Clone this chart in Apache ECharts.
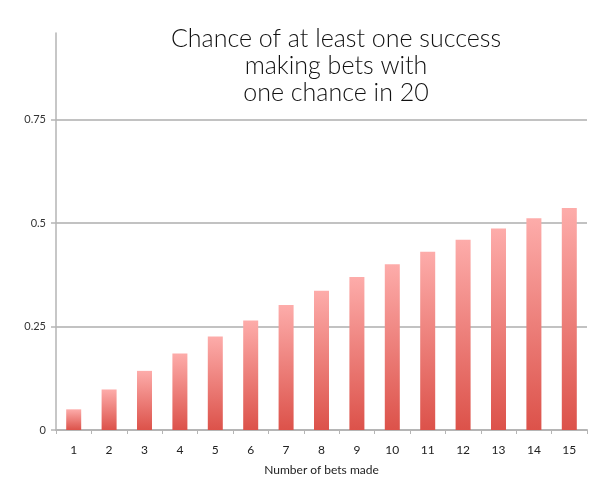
<!DOCTYPE html>
<html>
<head>
<meta charset="utf-8">
<script src="https://cdn.jsdelivr.net/npm/echarts@6/dist/echarts.min.js"></script>
<style>
  html, body { margin: 0; padding: 0; background: #fff; }
  #chart { width: 600px; height: 495px; }
</style>
</head>
<body>
<div id="chart"></div>
<script>
const categories = ['1', '2', '3', '4', '5', '6', '7', '8', '9', '10', '11', '12', '13', '14', '15']
const chance = [0.05, 0.098, 0.143, 0.185, 0.226, 0.265, 0.302, 0.337, 0.37, 0.401, 0.431, 0.46, 0.487, 0.512, 0.537]
const yTicks = [0, 0.25, 0.5, 0.75]

const chart = echarts.init(document.getElementById('chart'))

chart.setOption({
  animation: false,
  title: {
    text: 'Chance of at least one success\nmaking bets with\none chance in 20',
    left: 331,
    top: 20,
    textAlign: 'center',
    textStyle: { fontFamily: 'Lato', fontWeight: 300, fontSize: 25, lineHeight: 27, color: '#111' }
  },
  grid: { left: 56, right: 13, top: 33, bottom: 65 },
  xAxis: {
    type: 'category',
    data: categories,
    name: 'Number of bets made',
    nameLocation: 'middle',
    nameGap: 34,
    nameTextStyle: { fontFamily: 'Lato', fontSize: 12, color: '#222' },
    axisLine: { lineStyle: { color: '#b5b5b5', width: 2 } },
    axisTick: { show: true, length: 4, lineStyle: { color: '#b5b5b5', width: 1 } },
    axisLabel: { fontFamily: 'Lato', fontSize: 12, color: '#222', margin: 14 }
  },
  yAxis: {
    type: 'value',
    min: 0,
    max: 0.96,
    interval: 0.25,
    axisLine: { show: true, lineStyle: { color: '#b5b5b5', width: 1.5 } },
    axisTick: { show: true, length: 5, lineStyle: { color: '#b5b5b5', width: 1.5 } },
    splitLine: { show: true, showMaxLine: false, lineStyle: { color: '#c2c2c2', width: 2 } },
    axisLabel: {
      showMaxLabel: false,
      fontFamily: 'Lato',
      fontSize: 11,
      color: '#333',
      margin: 10,
      formatter: v => yTicks.includes(v) ? String(v) : ''
    }
  },
  series: [{
    type: 'bar',
    data: chance,
    barWidth: 15,
    itemStyle: {
      color: new echarts.graphic.LinearGradient(0, 0, 0, 1, [
        { offset: 0, color: '#fdacaa' },
        { offset: 1, color: '#dc524a' }
      ])
    }
  }]
})
</script>
</body>
</html>
